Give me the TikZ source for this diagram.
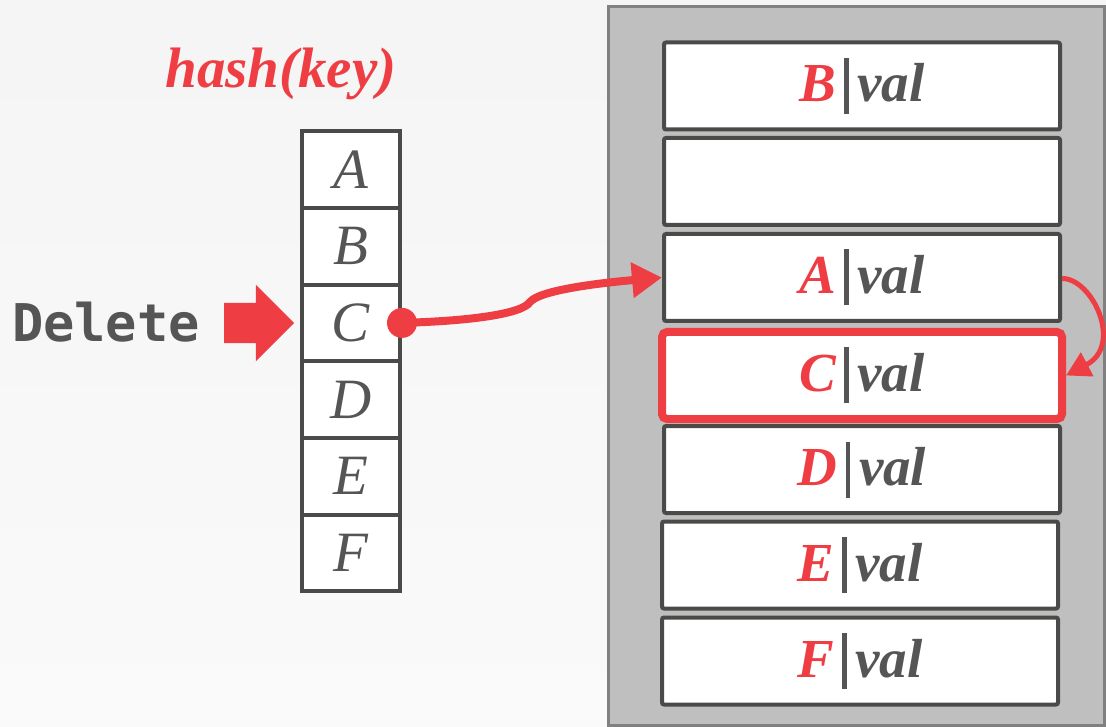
\documentclass[tikz,border=0pt]{standalone}
\usepackage{fontspec}
\setmainfont{Liberation Serif}
\newfontfamily\delfont{DejaVu Sans Mono}
\usetikzlibrary{positioning,arrows.meta,shapes.arrows}
\definecolor{dbred}{RGB}{238,62,68}
\definecolor{dbtext}{RGB}{85,85,85}
\definecolor{dbline}{RGB}{74,74,72}
\definecolor{dbpanel}{RGB}{191,191,191}
\definecolor{dbpanelline}{RGB}{128,128,128}
\newcommand{\kvpair}[1]{\textcolor{dbred}{#1}\hspace{8pt}{\color{dbtext}\rule[-12pt]{4.5pt}{56pt}}\hspace{9pt}val}
\tikzset{
  slotcell/.style={draw=dbline, line width=4pt, fill=white, minimum width=98pt, minimum height=76.7pt,
    inner sep=0pt, text=dbtext, font=\itshape\fontsize{57}{57}\selectfont},
  tuplecell/.style={draw=dbline, line width=4pt, fill=white, rounded corners=2pt, minimum width=396pt,
    minimum height=87pt, inner sep=0pt, text=dbtext, font=\bfseries\itshape\fontsize{55}{55}\selectfont},
}
\begin{document}
\begin{tikzpicture}[x=1pt, y=-1pt]
    \shade[top color=black!4, bottom color=black!2] (0,0) rectangle (1106,727);
    \useasboundingbox (0,0) rectangle (1106,727);

    \node[text=dbred, font=\bfseries\itshape\fontsize{57}{57}\selectfont] (hashkey) at (281,74) {hash(key)};

    \node[slotcell] (slotA) at (351,169.5) {A};
    \node[slotcell] (slotB) at (351,246.2) {B};
    \node[slotcell] (slotC) at (351,322.9) {C};
    \node[slotcell] (slotD) at (351,399.6) {D};
    \node[slotcell] (slotE) at (351,476.3) {E};
    \node[slotcell] (slotF) at (351,553) {F};

    \node[text=dbtext, font=\delfont\bfseries\fontsize{52}{52}\selectfont] (delete) at (106,322) {Delete};
    \node[single arrow, fill=dbred, minimum height=70pt, inner xsep=0pt, inner ysep=20pt,
      single arrow head extend=18pt] (delarrow) at (249,323) {};

    \node[draw=dbpanelline, line width=3pt, fill=dbpanel, minimum width=496pt, minimum height=719pt] (page) at (856,366) {};

    \node[tuplecell] (tupB) at (862,86) {\kvpair{B}};
    \node[tuplecell] (tupEmpty) at (862,181.5) {};
    \node[tuplecell] (tupA) at (862,277.5) {\kvpair{A}};
    \node[tuplecell, draw=dbred, line width=8pt, rounded corners=5pt, minimum width=400pt] (tupC) at (862,375.5) {\kvpair{C}};
    \node[tuplecell] (tupD) at (862,469.5) {\kvpair{D}};
    \node[tuplecell] (tupE) at (860,565) {\kvpair{E}};
    \node[tuplecell] (tupF) at (860,661) {\kvpair{F}};

    \fill[dbred] (slotC.east) circle (15pt);
    \draw[dbred, line width=8pt, -{Triangle[length=30pt, width=34pt]}] (slotC.east)
      .. controls (470,321) and (522,314) .. (530,302)
      .. controls (540,290) and (600,283) .. (tupA.west);

    \draw[dbred, line width=5pt, -{Triangle[length=24pt, width=26pt]}] ([yshift=-1pt]tupA.east)
      .. controls (1092,278) and (1124,345) .. (tupC.east);
\end{tikzpicture}
\end{document}
